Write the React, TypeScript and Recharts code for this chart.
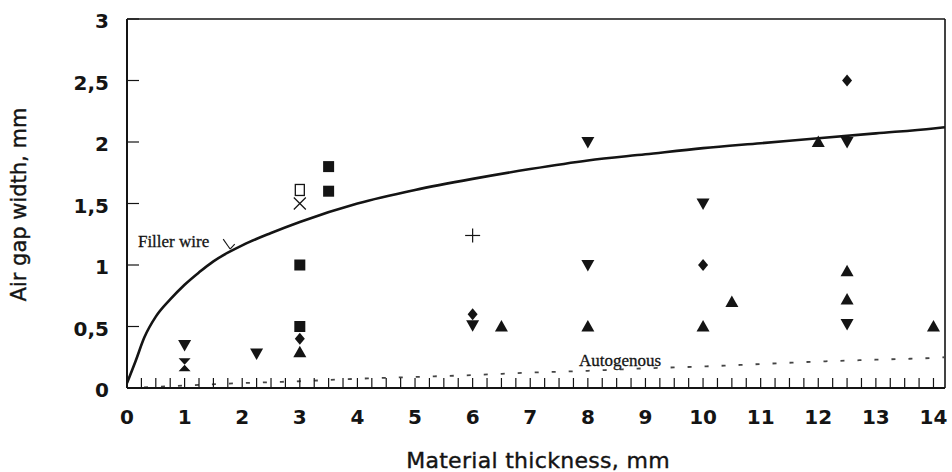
import { ComposedChart, Line, Scatter, XAxis, YAxis, ReferenceLine, ReferenceDot } from 'recharts';

// axis ticks
const xTicks = [
  0, 0.25, 0.5, 0.75, 1, 1.25, 1.5, 1.75, 2, 2.25, 2.5, 2.75, 3, 3.25, 3.5, 3.75,
  4, 4.25, 4.5, 4.75, 5, 5.25, 5.5, 5.75, 6, 6.25, 6.5, 6.75, 7, 7.25, 7.5, 7.75,
  8, 8.25, 8.5, 8.75, 9, 9.25, 9.5, 9.75, 10, 10.25, 10.5, 10.75, 11, 11.25, 11.5, 11.75,
  12, 12.25, 12.5, 12.75, 13, 13.25, 13.5, 13.75, 14,
];
const xMajor = [0, 1, 2, 3, 4, 5, 6, 7, 8, 9, 10, 11, 12, 13, 14];
const xTickLabels = ['0', '1', '2', '3', '4', '5', '6', '7', '8', '9', '10', '11', '12', '13', '14'];
const yTicks = [0, 0.5, 1, 1.5, 2, 2.5, 3];
const yTickLabels = ['0', '0,5', '1', '1,5', '2', '2,5', '3'];

// curves
const fillerX = [0, 0.15, 0.3, 0.5, 0.75, 1, 1.25, 1.5, 1.75, 2, 2.5, 3, 4, 5, 6, 7, 8, 9, 10, 11, 12, 13, 14, 14.2];
const fillerY = [0.04, 0.22, 0.41, 0.58, 0.72, 0.84, 0.94, 1.03, 1.1, 1.16, 1.26, 1.35, 1.5, 1.61, 1.7, 1.78, 1.85, 1.9, 1.95, 1.99, 2.03, 2.07, 2.11, 2.12];
const autoX = [0, 1, 2, 3, 4, 5, 6, 7, 8, 9, 10, 11, 12, 13, 14, 14.2];
const autoY = [0, 0.02, 0.04, 0.055, 0.075, 0.09, 0.105, 0.125, 0.14, 0.16, 0.175, 0.195, 0.215, 0.23, 0.245, 0.25];

// measured points, one list per marker
const upTriangles = [
  { x: 3, y: 0.29 }, { x: 6.5, y: 0.5 }, { x: 8, y: 0.5 }, { x: 10, y: 0.5 }, { x: 10.5, y: 0.7 },
  { x: 12, y: 2.0 }, { x: 12.5, y: 0.95 }, { x: 12.5, y: 0.72 }, { x: 14, y: 0.5 },
];
const downTriangles = [
  { x: 1, y: 0.35 }, { x: 2.25, y: 0.28 }, { x: 6, y: 0.51 }, { x: 8, y: 2.0 }, { x: 8, y: 1.0 },
  { x: 10, y: 1.5 }, { x: 12.5, y: 2.0 }, { x: 12.5, y: 0.52 },
];
const squares = [{ x: 3, y: 1.0 }, { x: 3, y: 0.5 }, { x: 3.5, y: 1.8 }, { x: 3.5, y: 1.6 }];
const diamonds = [{ x: 3, y: 0.4 }, { x: 6, y: 0.6 }, { x: 10, y: 1.0 }, { x: 12.5, y: 2.5 }];
const openSquares = [{ x: 3, y: 1.61 }];
const crosses = [{ x: 3, y: 1.5 }];
const pluses = [{ x: 6, y: 1.24 }];
const hourglasses = [{ x: 1, y: 0.19 }];

const fillerWire = fillerX.map((x, i) => ({ x, y: fillerY[i] }));
const autogenous = autoX.map((x, i) => ({ x, y: autoY[i] }));

const INK = '#141414';

const XTick = (props: any) => {
  const { x, y, payload } = props;
  const idx = xMajor.indexOf(payload.value);
  return (
    <g>
      <line x1={x} y1={y} x2={x} y2={y - 10} stroke={INK} strokeWidth={1.2} />
      {idx >= 0 && (
        <text x={x} y={y + 29} textAnchor="middle" dominantBaseline="central"
          fontFamily="DejaVu Sans" fontWeight="bold" fontSize={20} fill={INK}>
          {xTickLabels[idx]}
        </text>
      )}
    </g>
  );
};

const YTick = (props: any) => {
  const { x, y, payload } = props;
  const idx = yTicks.indexOf(payload.value);
  return (
    <g>
      <line x1={x} y1={y} x2={x + 12} y2={y} stroke={INK} strokeWidth={1.2} />
      <text x={x - 18} y={y + 2} textAnchor="end" dominantBaseline="central"
        fontFamily="DejaVu Sans" fontWeight="bold" fontSize={20} fill={INK}>
        {yTickLabels[idx]}
      </text>
    </g>
  );
};

const UpTri = (p: any) => (
  <polygon points={`${p.cx},${p.cy - 6.5} ${p.cx + 6.5},${p.cy + 5} ${p.cx - 6.5},${p.cy + 5}`} fill={INK} />
);
const DownTri = (p: any) => (
  <polygon points={`${p.cx - 6.5},${p.cy - 5} ${p.cx + 6.5},${p.cy - 5} ${p.cx},${p.cy + 6.5}`} fill={INK} />
);
const Square = (p: any) => <rect x={p.cx - 5.5} y={p.cy - 5.5} width={11} height={11} fill={INK} />;
const Diamond = (p: any) => (
  <polygon points={`${p.cx},${p.cy - 6} ${p.cx + 5},${p.cy} ${p.cx},${p.cy + 6} ${p.cx - 5},${p.cy}`} fill={INK} />
);
const OpenSquare = (p: any) => (
  <rect x={p.cx - 4.5} y={p.cy - 5.5} width={9} height={11} fill="none" stroke={INK} strokeWidth={1.3} />
);
const Cross = (p: any) => (
  <g stroke={INK} strokeWidth={1.3}>
    <line x1={p.cx - 6} y1={p.cy - 6} x2={p.cx + 6} y2={p.cy + 6} />
    <line x1={p.cx - 6} y1={p.cy + 6} x2={p.cx + 6} y2={p.cy - 6} />
  </g>
);
const Plus = (p: any) => (
  <g stroke={INK} strokeWidth={1.2}>
    <line x1={p.cx - 7.5} y1={p.cy} x2={p.cx + 7.5} y2={p.cy} />
    <line x1={p.cx} y1={p.cy - 7} x2={p.cx} y2={p.cy + 7} />
  </g>
);
const Hourglass = (p: any) => (
  <polygon points={`${p.cx - 6},${p.cy - 6.5} ${p.cx + 6},${p.cy - 6.5} ${p.cx - 6},${p.cy + 6.5} ${p.cx + 6},${p.cy + 6.5}`} fill={INK} />
);

export default function App() {
  return (
    <div style={{ position: 'absolute', left: 0, top: 0, background: '#fff' }}>
      <ComposedChart width={952} height={472} margin={{ top: 19, right: 7, left: 0, bottom: 0 }}>
        <XAxis
          dataKey="x"
          type="number"
          domain={[0, 14.2]}
          allowDataOverflow
          ticks={xTicks}
          interval={0}
          tickSize={0}
          tickMargin={0}
          tickLine={false}
          tick={<XTick />}
          height={84}
          axisLine={{ stroke: INK, strokeWidth: 2 }}
          label={{
            content: (p: any) => (
              <text x={p.viewBox.x + p.viewBox.width / 2 + 2} y={460} textAnchor="middle" dominantBaseline="central"
                fontFamily="DejaVu Sans" fontSize={22} fill={INK} stroke={INK} strokeWidth={0.4} letterSpacing={0.3}>
                Material thickness, mm
              </text>
            ),
          }}
        />
        <YAxis
          dataKey="y"
          type="number"
          domain={[0, 3]}
          allowDataOverflow
          ticks={yTicks}
          interval={0}
          tickSize={0}
          tickMargin={0}
          tickLine={false}
          tick={<YTick />}
          width={127}
          axisLine={{ stroke: INK, strokeWidth: 2 }}
          label={{
            content: (p: any) => {
              const cy = p.viewBox.y + p.viewBox.height / 2 + 1;
              return (
                <text x={19} y={cy} transform={`rotate(-90, 19, ${cy})`} textAnchor="middle" dominantBaseline="central"
                  fontFamily="DejaVu Sans" fontSize={21} fill={INK} stroke={INK} strokeWidth={0.4}>
                  Air gap width, mm
                </text>
              );
            },
          }}
        />
        <ReferenceLine y={3} stroke={INK} strokeWidth={1.6} />
        <ReferenceLine x={14.2} stroke={INK} strokeWidth={1.6} />

        <Line data={autogenous} dataKey="y" type="monotone" dot={false} stroke="#444" strokeWidth={1.8}
          strokeDasharray="4 13" isAnimationActive={false} />
        <Line data={fillerWire} dataKey="y" type="monotone" dot={false} stroke={INK} strokeWidth={2.6}
          isAnimationActive={false} />

        <ReferenceLine segment={[{ x: 1.67, y: 1.21 }, { x: 1.79, y: 1.13 }]} stroke={INK} strokeWidth={1.1} />
        <ReferenceLine segment={[{ x: 1.79, y: 1.13 }, { x: 1.87, y: 1.17 }]} stroke={INK} strokeWidth={1.1} />
        <ReferenceDot x={0.19} y={1.19} r={0}
          shape={(p: any) => (
            <text x={p.cx} y={p.cy} dominantBaseline="central" fontFamily="Liberation Serif" fontSize={17}
              fill={INK} stroke={INK} strokeWidth={0.3}>
              Filler wire
            </text>
          )}
        />
        <ReferenceDot x={8.56} y={0.22} r={0}
          shape={(p: any) => (
            <text x={p.cx} y={p.cy} textAnchor="middle" dominantBaseline="central" fontFamily="Liberation Serif" fontSize={17}
              fill={INK} stroke={INK} strokeWidth={0.3}>
              Autogenous
            </text>
          )}
        />

        <Scatter data={upTriangles} dataKey="y" shape={UpTri} isAnimationActive={false} />
        <Scatter data={downTriangles} dataKey="y" shape={DownTri} isAnimationActive={false} />
        <Scatter data={squares} dataKey="y" shape={Square} isAnimationActive={false} />
        <Scatter data={diamonds} dataKey="y" shape={Diamond} isAnimationActive={false} />
        <Scatter data={openSquares} dataKey="y" shape={OpenSquare} isAnimationActive={false} />
        <Scatter data={crosses} dataKey="y" shape={Cross} isAnimationActive={false} />
        <Scatter data={pluses} dataKey="y" shape={Plus} isAnimationActive={false} />
        <Scatter data={hourglasses} dataKey="y" shape={Hourglass} isAnimationActive={false} />
      </ComposedChart>
    </div>
  );
}
